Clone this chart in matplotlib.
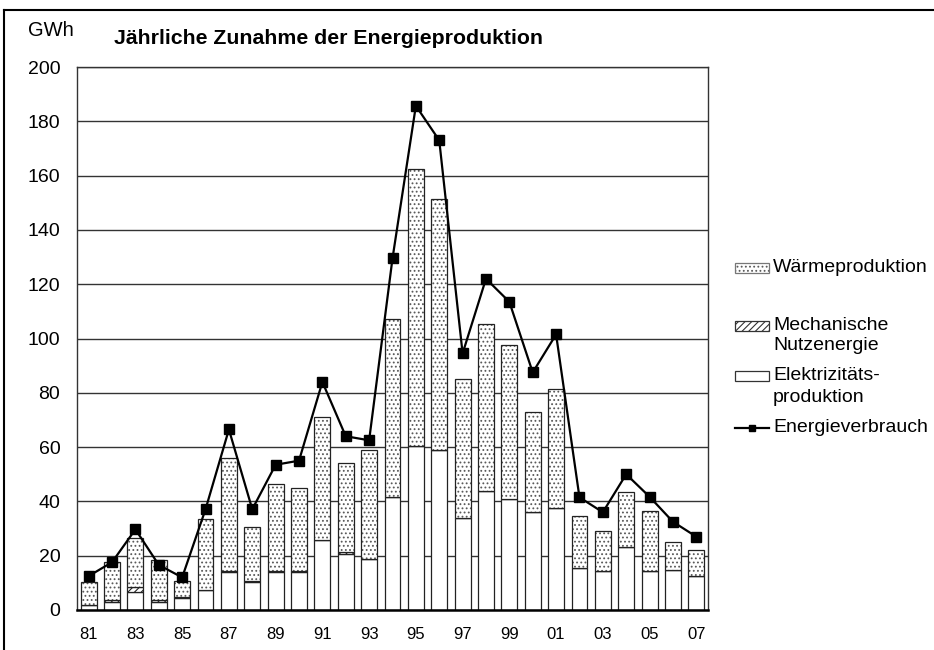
import numpy as np
import matplotlib
matplotlib.use("Agg")
from matplotlib import pyplot as plt
from matplotlib.patches import Rectangle
from matplotlib.lines import Line2D

years = ['81', '82', '83', '84', '85', '86', '87', '88', '89', '90', '91', '92', '93', '94',
         '95', '96', '97', '98', '99', '00', '01', '02', '03', '04', '05', '06', '07']
# stacked bar parts (GWh)
elektrizitaet = [1.8, 3.0, 6.5, 3.0, 4.3, 7.3, 14.0, 10.4, 14.0, 14.0, 25.8, 20.8, 18.7, 41.5,
                 60.5, 59.0, 34.0, 44.0, 41.0, 36.2, 37.5, 15.4, 14.5, 23.3, 14.4, 14.7, 12.5]
mechanisch = [0.0, 0.6, 1.8, 0.5, 0.5, 0.0, 0.5, 0.4, 0.4, 0.4, 0.0, 0.6, 0.0, 0.0,
              0.0, 0.0, 0.0, 0.0, 0.0, 0.0, 0.0, 0.0, 0.0, 0.0, 0.0, 0.0, 0.0]
gesamt = [10.2, 17.8, 26.5, 18.4, 10.7, 33.5, 56.0, 30.5, 46.5, 45.0, 71.0, 54.0, 59.0, 107.0,
          162.5, 151.5, 85.0, 105.5, 97.5, 73.0, 81.5, 34.5, 29.0, 43.5, 36.5, 25.0, 22.0]
verbrauch = [12.5, 17.6, 29.7, 16.6, 12.0, 37.1, 66.5, 37.1, 53.5, 55.0, 84.0, 64.0, 62.5, 129.5,
             185.7, 173.0, 94.5, 122.0, 113.5, 87.5, 101.5, 41.5, 36.0, 50.0, 41.7, 32.5, 27.0]

el = np.array(elektrizitaet)
me = np.array(mechanisch)
waerme = np.array(gesamt) - el - me
x = np.arange(len(years))

plt.rcParams['font.family'] = ['Liberation Sans', 'DejaVu Sans']
plt.rcParams['hatch.linewidth'] = 0.8

W, H = 934, 650
fig = plt.figure(figsize=(W / 100, H / 100), dpi=100)
ax = fig.add_axes([77 / W, 1 - 610 / H, (708 - 77) / W, (610 - 67) / H])

w = 0.68
ec = '#222222'
ax.bar(x, el, w, color='white', edgecolor=ec, linewidth=0.9, zorder=2)
ax.bar(x, me, w, bottom=el, color='white', edgecolor=ec, hatch='/////', linewidth=0.9, zorder=2)
wb = ax.bar(x, waerme, w, bottom=el + me, color='white', edgecolor=ec, hatch='....', linewidth=0.9, zorder=2)
for b in wb:
    b._hatch_color = (0.35, 0.35, 0.35, 1.0)
ax.plot(x, verbrauch, color='black', lw=1.6, marker='s', markersize=6.5, zorder=3)

ax.set_xlim(-0.5, 26.5)
ax.set_ylim(0, 200)
ax.set_yticks(np.arange(0, 201, 20))
ax.set_xticks(x[::2])
ax.set_xticklabels(years[::2])
ax.tick_params(axis='both', length=0)
ax.tick_params(axis='x', pad=12, labelsize=12)
ax.tick_params(axis='y', pad=12, labelsize=14)
ax.grid(axis='y', color='#333333', lw=1.0, zorder=0)
ax.set_axisbelow(True)
for s in ['left', 'right', 'top']:
    ax.spines[s].set_color('#333333')
    ax.spines[s].set_linewidth(1.0)
ax.spines['bottom'].set_linewidth(1.8)

fig.text(28 / W, 1 - 30 / H, 'GWh', fontsize=14.5, va='center', ha='left')
fig.text(114 / W, 1 - 39 / H, 'Jährliche Zunahme der Energieproduktion', fontsize=15.3,
         fontweight='bold', va='center', ha='left')

# legend drawn by hand so the keys sit on the first text line
hx0, hx1, tx = 735, 769, 773
def leg_patch(yc, hatch, edge):
    p = Rectangle((hx0 / W, 1 - (yc + 5) / H), (hx1 - hx0) / W, 10 / H,
                  transform=fig.transFigure, facecolor='white', edgecolor=edge,
                  hatch=hatch, lw=0.9)
    fig.add_artist(p)
    return p
def leg_text(yc, s):
    fig.text(tx / W, 1 - yc / H, s, fontsize=14, va='center', ha='left')

lp = leg_patch(268, '....', '#777777')
lp._hatch_color = (0.35, 0.35, 0.35, 1.0)
leg_text(268, 'Wärmeproduktion')
leg_patch(326, '/////', '#333333')
leg_text(326, 'Mechanische')
leg_text(345, 'Nutzenergie')
leg_patch(376, '', '#333333')
leg_text(376, 'Elektrizitäts-')
leg_text(397, 'produktion')
fig.add_artist(Line2D([hx0 / W, hx1 / W], [1 - 428 / H, 1 - 428 / H], color='black', lw=1.6))
fig.add_artist(Line2D([(hx0 + hx1) / 2 / W], [1 - 428 / H], color='black', marker='s', markersize=5))
leg_text(428, 'Energieverbrauch')

# outer frame (left and top edges visible)
fig.add_artist(Line2D([4 / W, 4 / W], [0, 1 - 10 / H], color='black', lw=1.5))
fig.add_artist(Line2D([4 / W, 1], [1 - 10 / H, 1 - 10 / H], color='black', lw=1.5))

fig.savefig('out.png', dpi=100)
